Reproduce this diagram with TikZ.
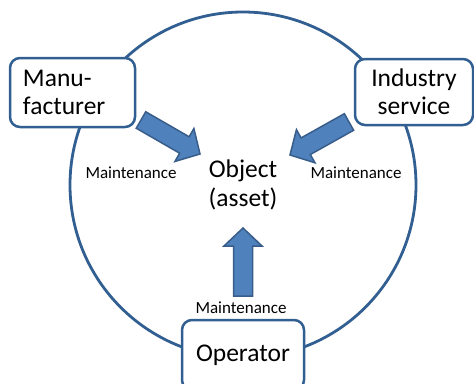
\documentclass[tikz,border=0pt]{standalone}
\usepackage{fontspec}
\setmainfont{Carlito}
\usetikzlibrary{positioning,calc}

\definecolor{ringblue}{RGB}{50,95,145}
\definecolor{arrowfill}{RGB}{79,129,189}
\definecolor{arrowline}{RGB}{56,93,138}

\tikzset{
	party/.style={draw=ringblue,line width=2.5pt,rounded corners=10pt,fill=white,
		font=\fontsize{25.5}{28}\selectfont,inner sep=0pt},
	maint/.style={font=\fontsize{17}{20}\selectfont,inner sep=1pt},
	blockarr/.style={fill=arrowfill,draw=arrowline,line width=1.5pt,line join=miter}
}

% block arrow from tail coordinate #1 to tip coordinate #2
\newcommand{\blockarrow}[2]{
	\coordinate (#1-neck) at ($(#2)!18pt!(#1)$);
	\draw [blockarr] ($(#1)!9.5pt!90:(#2)$) -- ($(#1-neck)!9.5pt!90:(#2)$)
		-- ($(#1-neck)!19pt!90:(#2)$) -- (#2) -- ($(#1-neck)!19pt!-90:(#2)$)
		-- ($(#1-neck)!9.5pt!-90:(#2)$) -- ($(#1)!9.5pt!-90:(#2)$) -- cycle;
}

\begin{document}
\begin{tikzpicture}[x=1pt,y=-1pt]

\useasboundingbox (0,0) rectangle (474,383);

\node [font=\fontsize{25.5}{29}\selectfont,align=center] at (243,185) (obj) {Object\\(asset)};

\draw [ringblue,line width=2.8pt] (obj.center) circle [radius=173pt];

%%%%%%%%%%%%%%%%%%%%%%%%%%%%%%%%%%%%%%%%%%%%%%%%%%%%%%%%%%%%%%%%

\node [party,minimum width=125pt,minimum height=69pt,text width=99pt,align=left] at (72.5,92.5) (manu) {Manu-\\facturer};
\node [party,minimum width=118pt,minimum height=66pt,align=center] at (414,92) (indu) {Industry\\service};
\node [party,minimum width=122pt,minimum height=70pt] at (243,355) (oper) {Operator};

%%%%%%%%%%%%%%%%%%%%%%%%%%%%%%%%%%%%%%%%%%%%%%%%%%%%%%%%%%%%%%%%

\coordinate (mtail) at (141,120);
\coordinate (mtip)  at (200,154);
\coordinate (itail) at (349,122);
\coordinate (itip)  at (290,155);
\coordinate (otail) at (243,296);
\coordinate (otip)  at (243,228);

\blockarrow{mtail}{mtip}
\blockarrow{itail}{itip}
\blockarrow{otail}{otip}

\node [maint] at (131,173) (mlab) {Maintenance};
\node [maint] at (356,173) (ilab) {Maintenance};
\node [maint] at (241,308) (olab) {Maintenance};

\end{tikzpicture}
\end{document}
